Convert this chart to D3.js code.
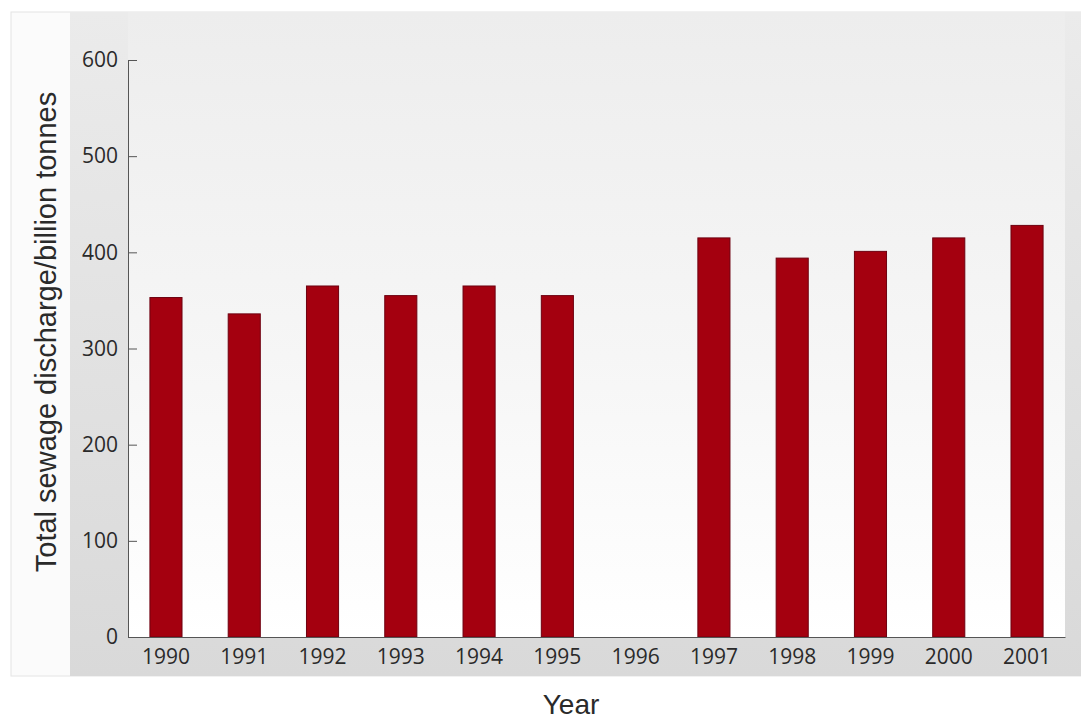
<!DOCTYPE html>
<html>
<head>
<meta charset="utf-8">
<script src="https://cdn.jsdelivr.net/npm/d3@7"></script>
<style>
  body { margin: 0; background: #fff; }
  text { font-family: "Open Sans", "DejaVu Sans", sans-serif; fill: #2a2a2a; }
  .title { font-family: "Liberation Sans", Arial, sans-serif; }
</style>
</head>
<body>
<svg id="chart" width="1081" height="719"></svg>
<script>
// data
const years = ["1990", "1991", "1992", "1993", "1994", "1995", "1996", "1997", "1998", "1999", "2000", "2001"];
const discharge = [353, 336, 365, 355, 365, 355, null, 415, 394, 401, 415, 428];
const yTicks = [0, 100, 200, 300, 400, 500, 600];

const data = years.map((y, i) => ({ year: y, value: discharge[i] }));

// plot box
const plotLeft = 128, plotRight = 1065, plotTop = 60, plotBottom = 637;

const svg = d3.select("#chart");

// gradients
const defs = svg.append("defs");
const g1 = defs.append("linearGradient").attr("id", "frameGrad").attr("x1", 0).attr("y1", 0).attr("x2", 0).attr("y2", 1);
g1.append("stop").attr("offset", "0%").attr("stop-color", "#ebebeb");
g1.append("stop").attr("offset", "100%").attr("stop-color", "#d9d9d9");
const g2 = defs.append("linearGradient").attr("id", "plotGrad").attr("x1", 0).attr("y1", 0).attr("x2", 0).attr("y2", 1);
g2.append("stop").attr("offset", "0%").attr("stop-color", "#ededed");
g2.append("stop").attr("offset", "55%").attr("stop-color", "#f6f6f6");
g2.append("stop").attr("offset", "100%").attr("stop-color", "#ffffff");

// panel background
svg.append("rect").attr("x", 11).attr("y", 12).attr("width", 1070).attr("height", 664)
  .attr("fill", "#fbfbfb").attr("stroke", "#e4e4e4");
svg.append("rect").attr("x", 70).attr("y", 12).attr("width", 1011).attr("height", 664)
  .attr("fill", "url(#frameGrad)");
svg.append("rect").attr("x", plotLeft).attr("y", 12).attr("width", plotRight - plotLeft).attr("height", plotBottom - 12)
  .attr("fill", "url(#plotGrad)");

// scales
const x = d3.scaleBand().domain(years).range([plotLeft, plotRight]).paddingInner(0.59).paddingOuter(0.28);
const y = d3.scaleLinear().domain([0, 600]).range([plotBottom, plotTop]);

// bars
svg.append("g")
  .selectAll("rect")
  .data(data.filter((d) => d.value != null))
  .join("rect")
  .attr("x", (d) => x(d.year))
  .attr("y", (d) => y(d.value))
  .attr("width", x.bandwidth())
  .attr("height", (d) => plotBottom - y(d.value))
  .attr("fill", "#a4000f")
  .attr("stroke", "#6e0010")
  .attr("stroke-width", 1);

// y axis
const yAxis = svg.append("g")
  .attr("transform", `translate(${plotLeft},0)`)
  .call(d3.axisLeft(y).tickValues(yTicks).tickSize(-9).tickPadding(10).tickSizeOuter(0));
yAxis.select(".domain").attr("stroke", "#555");
yAxis.selectAll(".tick line").attr("stroke", "#555");
yAxis.selectAll("text").style("font-size", "21px").attr("fill", "#2a2a2a");

// x axis
const xAxis = svg.append("g")
  .attr("transform", `translate(0,${plotBottom})`)
  .call(d3.axisBottom(x).tickSize(0).tickPadding(12).tickSizeOuter(0));
xAxis.select(".domain").attr("stroke", "#555");
xAxis.selectAll("text").style("font-size", "21px").attr("fill", "#2a2a2a");

// axis titles
svg.append("text")
  .attr("class", "title")
  .attr("transform", `translate(56,332) rotate(-90)`)
  .attr("text-anchor", "middle")
  .style("font-size", "29px")
  .text("Total sewage discharge/billion tonnes");

svg.append("text")
  .attr("class", "title")
  .attr("x", 571)
  .attr("y", 714)
  .attr("text-anchor", "middle")
  .style("font-size", "28px")
  .text("Year");
</script>
</body>
</html>
